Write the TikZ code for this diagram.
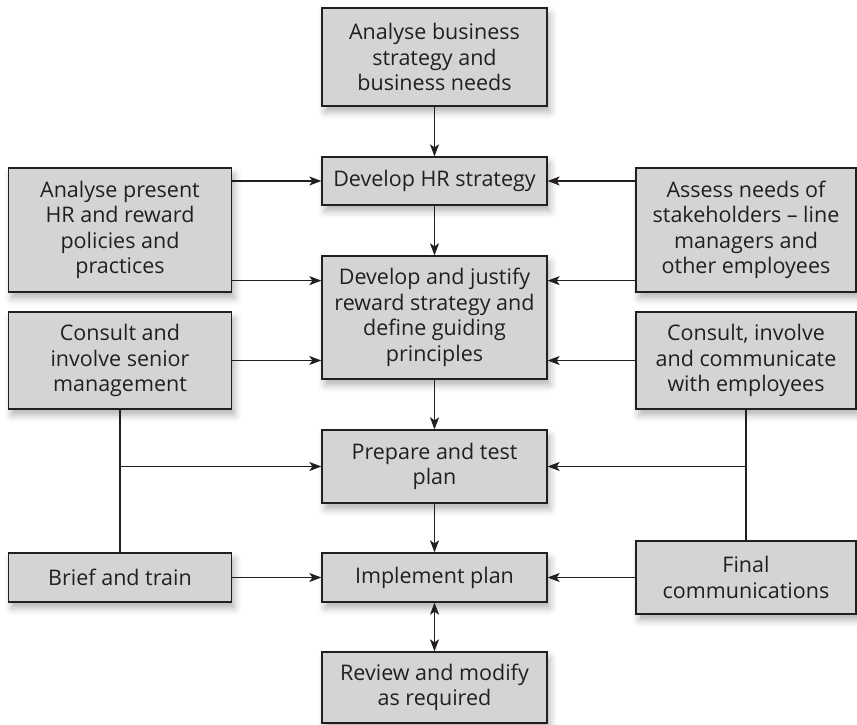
\documentclass[tikz,border=0pt]{standalone}
\usepackage{fontspec}
\setmainfont{Open Sans}
\usetikzlibrary{arrows.meta,shadows.blur}
\definecolor{boxfill}{RGB}{211,212,214}
\definecolor{ink}{RGB}{35,31,32}
\tikzset{
  box/.style={draw=ink, line width=1.3pt, fill=boxfill, rectangle, inner sep=0pt,
    align=center, text=ink,
    font=\fontsize{21.5pt}{25.5pt}\selectfont,
    blur shadow={shadow xshift=3pt, shadow yshift=-6pt, shadow blur radius=7pt, shadow opacity=30}},
  wide/.style={minimum width=225pt},
  side/.style={minimum width=223pt},
  arr/.style={draw=ink, line width=1.1pt, -{Stealth[length=12pt,width=9pt,inset=3pt]}},
  link/.style={draw=ink, line width=1.1pt}
}
\begin{document}
\begin{tikzpicture}[x=1pt,y=-1pt]
\useasboundingbox (0,0) rectangle (857,725);

% centre column
\node[box,wide,minimum height=98pt]  (top)  at (434.5,57)    {Analyse business\\strategy and\\business needs};
\node[box,wide,minimum height=48pt]  (hr)   at (434.5,181)   {Develop HR strategy};
\node[box,wide,minimum height=123pt] (dj)   at (434.5,317.5) {Develop and justify\\reward strategy and\\define guiding\\principles};
\node[box,wide,minimum height=73pt]  (prep) at (434.5,466.5) {Prepare and test\\plan};
\node[box,wide,minimum height=49pt]  (impl) at (434.5,577.5) {Implement plan};
\node[box,wide,minimum height=71pt]  (rev)  at (434.5,687.5) {Review and modify\\as required};

% left column
\node[box,side,minimum height=124pt] (L1) at (120,230)   {Analyse present\\HR and reward\\policies and\\practices};
\node[box,side,minimum height=97pt]  (L2) at (120,360.5) {Consult and\\involve senior\\management};
\node[box,side,minimum height=49pt]  (L3) at (120,577.5) {Brief and train};

% right column
\node[box,minimum width=220pt,minimum height=124pt] (R1) at (746,230)   {Assess needs of\\stakeholders -- line\\managers and\\other employees};
\node[box,minimum width=220pt,minimum height=97pt]  (R2) at (746,360.5) {Consult, involve\\and communicate\\with employees};
\node[box,minimum width=220pt,minimum height=73pt]  (R3) at (746,577.5) {Final\\communications};

% main flow
\draw[arr] (top.south) -- (hr.north);
\draw[arr] (hr.south) -- (dj.north);
\draw[arr] (dj.south) -- (prep.north);
\draw[arr] (prep.south) -- (impl.north);
\draw[draw=ink, line width=1.1pt, {Stealth[length=12pt,width=9pt,inset=3pt]}-{Stealth[length=12pt,width=9pt,inset=3pt]}] (impl.south) -- (rev.north);

% inputs from the left
\draw[arr] (L1.east |- hr.west) -- (hr.west);
\draw[arr] ([yshift=12pt]L1.south east) -- ([yshift=12pt]L1.south east -| dj.west);
\draw[arr] (L2.east) -- (L2.east -| dj.west);
\draw[link] (L2.south) -- (L3.north);
\draw[arr] (L2.south |- prep.west) -- (prep.west);
\draw[arr] (L3.east) -- (impl.west);

% inputs from the right
\draw[arr] (R1.west |- hr.east) -- (hr.east);
\draw[arr] ([yshift=12pt]R1.south west) -- ([yshift=12pt]R1.south west -| dj.east);
\draw[arr] (R2.west) -- (R2.west -| dj.east);
\draw[link] (R2.south) -- (R3.north);
\draw[arr] (R2.south |- prep.east) -- (prep.east);
\draw[arr] (R3.west) -- (impl.east);
\end{tikzpicture}
\end{document}
